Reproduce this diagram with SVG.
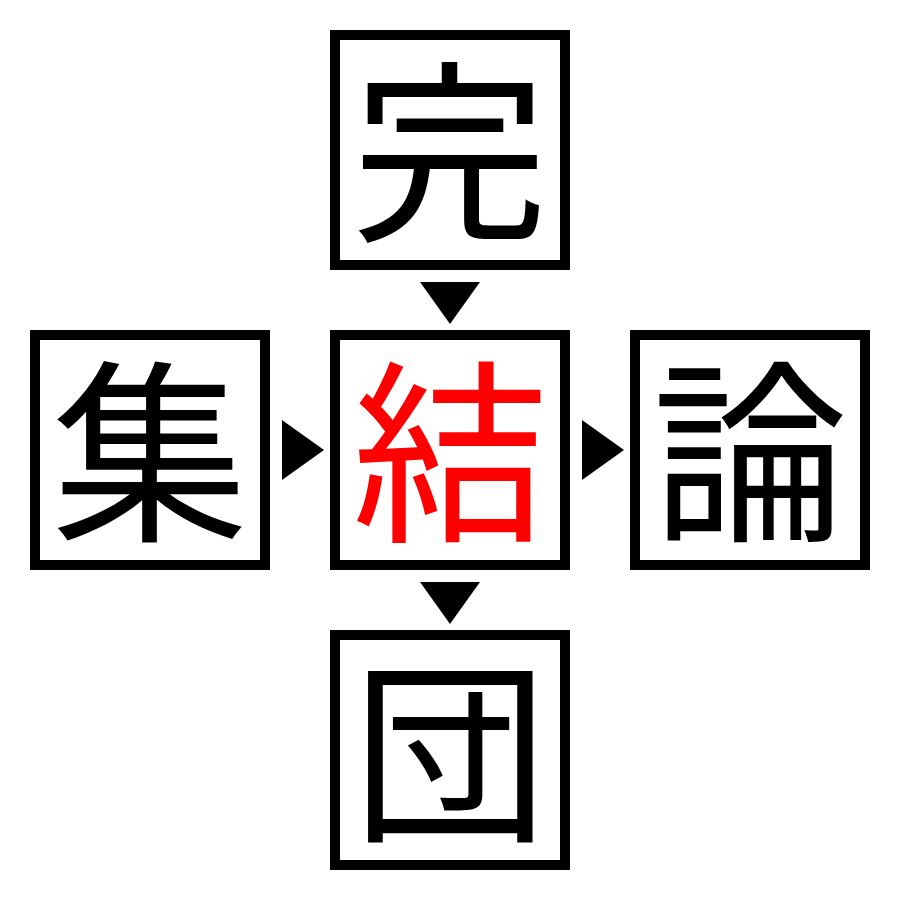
<svg xmlns="http://www.w3.org/2000/svg" width="900" height="900" viewBox="0 0 900 900">
<style>
.box{fill:#fff;stroke:#000;stroke-width:10}
.ch{font-family:"Noto Sans CJK JP","Noto Sans CJK SC",sans-serif;font-size:196px;text-anchor:middle;fill:#000}
.red{fill:#ff0000}
.arr{fill:#000}
</style>
<rect width="900" height="900" fill="#fff"/>
<g id="node-top"><rect class="box" x="335" y="35" width="230" height="230"/><text class="ch" x="450" y="226">完</text></g>
<g id="node-left"><rect class="box" x="35" y="335" width="230" height="230"/><text class="ch" x="150" y="526">集</text></g>
<g id="node-center"><rect class="box" x="335" y="335" width="230" height="230"/><text class="ch red" x="450" y="526">結</text></g>
<g id="node-right"><rect class="box" x="635" y="335" width="230" height="230"/><text class="ch" x="750" y="526">論</text></g>
<g id="node-bottom"><rect class="box" x="335" y="635" width="230" height="230"/><text class="ch" x="450" y="826">団</text></g>
<g id="connectors">
<polygon class="arr" points="420,282 480,282 450,324"/>
<polygon class="arr" points="282,420 282,480 324,450"/>
<polygon class="arr" points="582,420 582,480 624,450"/>
<polygon class="arr" points="420,582 480,582 450,624"/>
</g>
</svg>
